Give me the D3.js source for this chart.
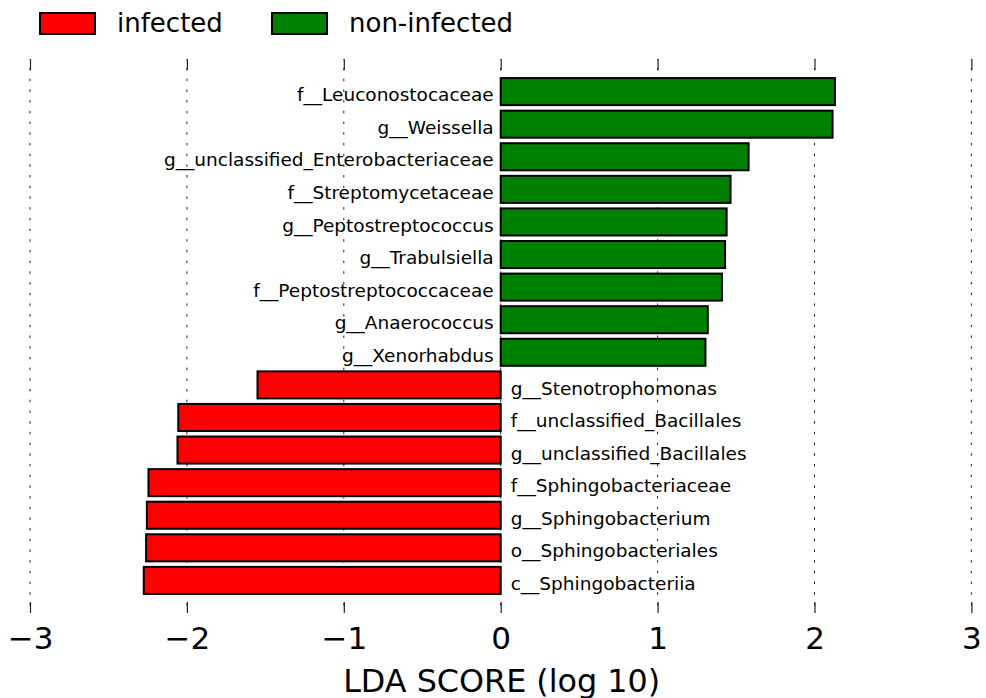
<!DOCTYPE html>
<html>
<head>
<meta charset="utf-8">
<script src="https://cdn.jsdelivr.net/npm/d3@7"></script>
<style>
  html, body { margin: 0; padding: 0; background: #fff; }
  svg { display: block; font-family: "DejaVu Sans", sans-serif; }
</style>
</head>
<body>
<svg id="chart" width="986" height="698"></svg>
<script>
// ---- Data ----
const categories = [
  "f__Leuconostocaceae",
  "g__Weissella",
  "g__unclassified_Enterobacteriaceae",
  "f__Streptomycetaceae",
  "g__Peptostreptococcus",
  "g__Trabulsiella",
  "f__Peptostreptococcaceae",
  "g__Anaerococcus",
  "g__Xenorhabdus",
  "g__Stenotrophomonas",
  "f__unclassified_Bacillales",
  "g__unclassified_Bacillales",
  "f__Sphingobacteriaceae",
  "g__Sphingobacterium",
  "o__Sphingobacteriales",
  "c__Sphingobacteriia"
];
const ldaScores = [
  2.13, 2.115, 1.58, 1.465, 1.44, 1.43, 1.41, 1.32, 1.305,
  -1.55, -2.055, -2.06, -2.245, -2.255, -2.26, -2.275
];
const groups = [
  "non-infected","non-infected","non-infected","non-infected","non-infected",
  "non-infected","non-infected","non-infected","non-infected",
  "infected","infected","infected","infected","infected","infected","infected"
];
const legendLabels = ["infected", "non-infected"];
const xTicks = [-3, -2, -1, 0, 1, 2, 3];
const xLabel = "LDA SCORE (log 10)";

// ---- Styles ----
const colors = { "infected": "#ff0000", "non-infected": "#008000" };

const svg = d3.select("#chart");
const yTop = 59, yBottom = 613;

const x = d3.scaleLinear().domain([-3, 3]).range([30, 971.4]);
const step = (yBottom - yTop) / 17;
const y = d3.scaleBand()
  .domain(categories)
  .range([yTop + step / 2, yBottom - step / 2])
  .paddingInner(0.17)
  .paddingOuter(0.085);

// gridlines (dotted)
svg.append("g").selectAll("line")
  .data(xTicks)
  .join("line")
  .attr("x1", d => x(d)).attr("x2", d => x(d))
  .attr("y1", yTop).attr("y2", yBottom)
  .attr("stroke", "#222")
  .attr("stroke-width", 1)
  .attr("stroke-dasharray", "2.5,8.2")
  .attr("stroke-dashoffset", -9);

// axis ticks top and bottom (inward)
const axTop = d3.axisTop(x).tickValues(xTicks).tickSize(-11).tickFormat("");
const gTop = svg.append("g").attr("transform", `translate(0,${yTop})`).call(axTop);
gTop.select(".domain").remove();
gTop.selectAll(".tick line").attr("stroke", "#222").attr("stroke-width", 1.2);

const axBottom = d3.axisBottom(x).tickValues(xTicks).tickSize(-11)
  .tickFormat(d => d < 0 ? "\u2212" + Math.abs(d) : String(d));
const gBot = svg.append("g").attr("transform", `translate(0,${yBottom})`).call(axBottom);
gBot.select(".domain").remove();
gBot.selectAll(".tick line").attr("stroke", "#222").attr("stroke-width", 1.2);
gBot.selectAll(".tick text")
  .attr("font-family", "DejaVu Sans, sans-serif")
  .attr("font-size", 31)
  .attr("fill", "#000")
  .attr("y", 36)
  .attr("dy", 0);

// bars
const rows = categories.map((c, i) => ({ cat: c, v: ldaScores[i], g: groups[i] }));
svg.append("g").selectAll("rect")
  .data(rows)
  .join("rect")
  .attr("x", d => x(Math.min(0, d.v)))
  .attr("width", d => Math.abs(x(d.v) - x(0)))
  .attr("y", d => y(d.cat))
  .attr("height", y.bandwidth())
  .attr("fill", d => colors[d.g])
  .attr("stroke", "#000")
  .attr("stroke-width", 2);

// category labels
svg.append("g").selectAll("text")
  .data(rows)
  .join("text")
  .attr("x", d => d.v > 0 ? x(0) - 7 : x(0) + 10)
  .attr("y", d => y(d.cat) + y.bandwidth() / 2)
  .attr("dy", "0.52em")
  .attr("text-anchor", d => d.v > 0 ? "end" : "start")
  .attr("font-size", 18.5)
  .attr("fill", "#000")
  .text(d => d.cat);

// x label
svg.append("text")
  .attr("x", x(0) + 1)
  .attr("y", 692)
  .attr("text-anchor", "middle")
  .attr("font-size", 31.8)
  .attr("fill", "#000")
  .text(xLabel);

// legend
const legX = [40, 272];
const leg = svg.append("g").selectAll("g")
  .data(legendLabels)
  .join("g")
  .attr("transform", (d, i) => `translate(${legX[i]},13)`);
leg.append("rect")
  .attr("width", 55).attr("height", 21)
  .attr("fill", d => colors[d])
  .attr("stroke", "#000").attr("stroke-width", 2);
leg.append("text")
  .attr("x", 77).attr("y", 19)
  .attr("font-size", 26)
  .attr("fill", "#000")
  .text(d => d);
</script>
</body>
</html>
